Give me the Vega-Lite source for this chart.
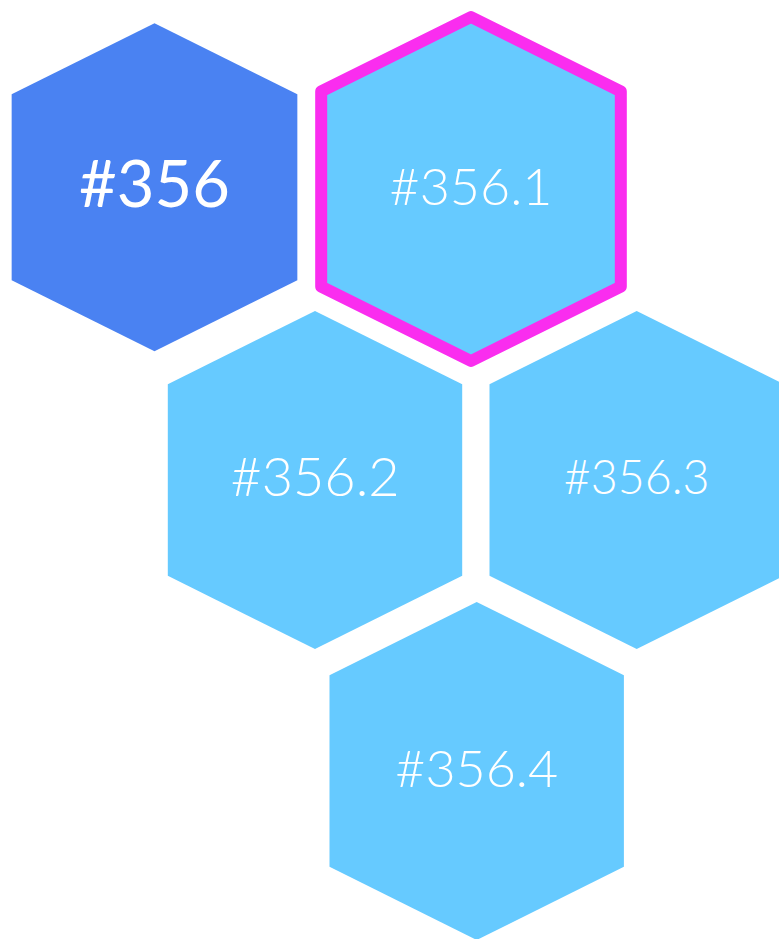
{
  "$schema": "https://vega.github.io/schema/vega-lite/v6.json",
  "width": 779,
  "height": 939,
  "padding": 0,
  "autosize": {"type": "none"},
  "background": "white",
  "view": {"stroke": null},
  "data": {
    "values": [
      {"label": "#356", "level": "parent", "x": 154.5, "y": 187.2},
      {"label": "#356.1", "level": "child", "x": 471, "y": 189},
      {"label": "#356.2", "level": "child", "x": 315, "y": 480},
      {"label": "#356.3", "level": "child", "x": 636.7, "y": 480},
      {"label": "#356.4", "level": "child", "x": 476.7, "y": 771}
    ]
  },
  "encoding": {
    "x": {"field": "x", "type": "quantitative", "scale": {"domain": [0, 779], "range": [0, 779], "nice": false, "zero": false}, "axis": null},
    "y": {"field": "y", "type": "quantitative", "scale": {"domain": [0, 939], "range": [0, 939], "nice": false, "zero": false}, "axis": null}
  },
  "layer": [
    {
      "mark": {
        "type": "point",
        "filled": true,
        "opacity": 1,
        "shape": "M0,-1L0.871,-0.567L0.871,0.567L0,1L-0.871,0.567L-0.871,-0.567Z",
        "stroke": "#FA2DEF",
        "strokeJoin": "round",
        "clip": false
      },
      "encoding": {
        "color": {"field": "level", "type": "nominal", "scale": {"domain": ["parent", "child"], "range": ["#4A82F2", "#66CAFF"]}, "legend": null},
        "size": {"condition": [{"test": "datum.label === '#356'", "value": 107584}, {"test": "datum.label === '#356.1'", "value": 118336}], "value": 114244},
        "strokeWidth": {"condition": {"test": "datum.label === '#356.1'", "value": 12}, "value": 0}
      }
    },
    {
      "transform": [{"filter": "datum.level === 'parent'"}],
      "mark": {"type": "text", "align": "center", "baseline": "middle", "font": "Lato", "fontSize": 65, "fill": "white"},
      "encoding": {
        "text": {"field": "label", "type": "nominal"}
      }
    },
    {
      "transform": [{"filter": "datum.level === 'child'"}],
      "mark": {"type": "text", "align": "center", "baseline": "middle", "font": "Lato", "fontWeight": 300, "fill": "white"},
      "encoding": {
        "text": {"field": "label", "type": "nominal"},
        "size": {"condition": [{"test": "datum.label === '#356.2'", "value": 54}, {"test": "datum.label === '#356.3'", "value": 46.5}], "value": 52}
      }
    }
  ]
}
